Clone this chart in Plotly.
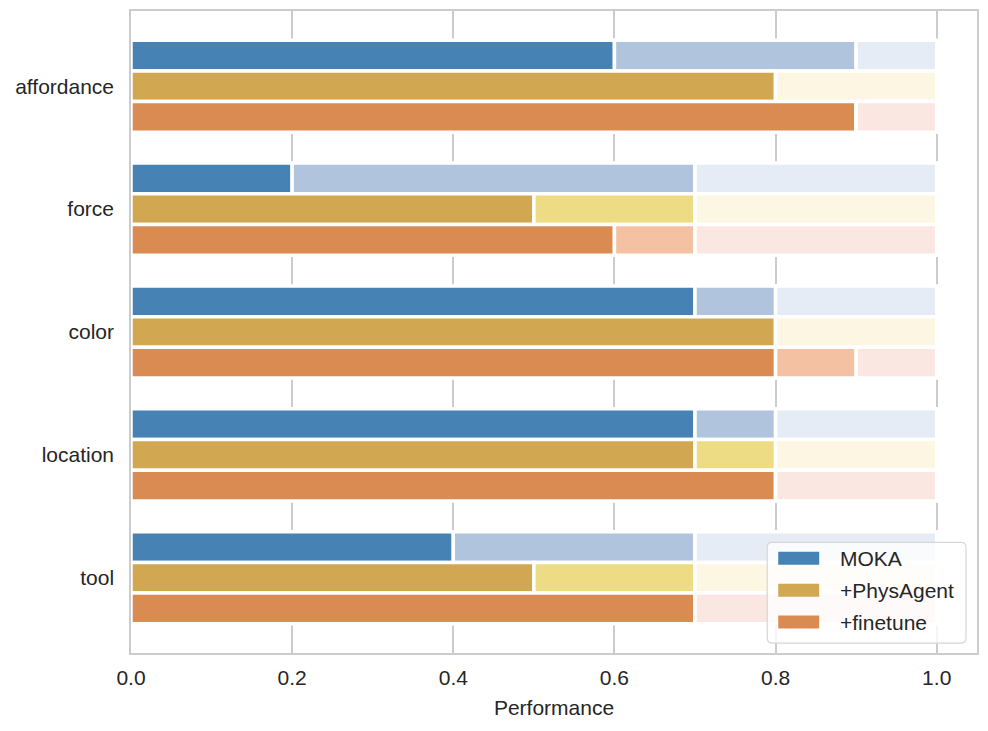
import plotly.graph_objects as go

# ---------------- data ----------------
categories = ["affordance", "force", "color", "location", "tool"]
series_names = ["MOKA", "+PhysAgent", "+finetune"]

moka_score = [0.6, 0.2, 0.7, 0.7, 0.4]
moka_upper = [0.9, 0.7, 0.8, 0.8, 0.7]
physagent_score = [0.8, 0.5, 0.8, 0.7, 0.5]
physagent_upper = [0.8, 0.7, 0.8, 0.8, 0.7]
finetune_score = [0.9, 0.6, 0.8, 0.8, 0.7]
finetune_upper = [0.9, 0.7, 0.9, 0.8, 0.7]
full_scale = [1.0, 1.0, 1.0, 1.0, 1.0]

x_ticks = [0.0, 0.2, 0.4, 0.6, 0.8, 1.0]
x_tick_labels = ["0.0", "0.2", "0.4", "0.6", "0.8", "1.0"]

# ---------------- styles ----------------
palette = {
    "MOKA": ("#4682B4", "#B0C4DE", "#E5ECF5"),
    "+PhysAgent": ("#D1A851", "#EDDC84", "#FCF6E3"),
    "+finetune": ("#D98B52", "#F4C2A3", "#FBE7E1"),
}
series_data = {
    "MOKA": (moka_score, moka_upper),
    "+PhysAgent": (physagent_score, physagent_upper),
    "+finetune": (finetune_score, finetune_upper),
}

FONT = "Liberation Sans, Arial, Helvetica, sans-serif"
FS = 21
TEXT = "#262626"
GRID = "#cccccc"
W, H = 988, 731
ML, MR, MT, MB = 131, 10, 9, 78

fig = go.Figure()

for name in series_names:
    score, upper = series_data[name]
    c_solid, c_light, c_rest = palette[name]
    seg_light = [u - s for s, u in zip(score, upper)]
    seg_rest = [t - u for u, t in zip(upper, full_scale)]
    for base, width, color in (
        ([0.0] * len(score), score, c_solid),
        (score, seg_light, c_light),
        (upper, seg_rest, c_rest),
    ):
        fig.add_trace(go.Bar(
            y=categories, x=width, base=base, orientation="h",
            offsetgroup=name, name=name, showlegend=False,
            marker=dict(color=color, line=dict(color="white", width=3.5)),
            hovertemplate=name + " %{y}: %{base:.1f}–%{x:.1f}<extra></extra>",
        ))

fig.update_layout(
    width=W, height=H,
    margin=dict(l=ML, r=MR, t=MT, b=MB, pad=0),
    paper_bgcolor="white", plot_bgcolor="white",
    barmode="group", bargap=0.25, bargroupgap=0,
    font=dict(family=FONT, size=FS, color=TEXT),
    showlegend=False,
)
fig.update_xaxes(
    range=[0, 1.05], tickvals=x_ticks, ticktext=x_tick_labels,
    showgrid=True, gridcolor=GRID, gridwidth=1.5, zeroline=False,
    showline=True, mirror=True, linecolor=GRID, linewidth=1.5,
    ticks="", ticklabelstandoff=5,
    tickfont=dict(family=FONT, size=FS, color=TEXT),
    title=dict(text="Performance", font=dict(family=FONT, size=FS, color=TEXT), standoff=12),
)
fig.update_yaxes(
    type="category", categoryorder="array", categoryarray=categories,
    range=[len(categories) - 1 + 0.6125, -0.6125],
    showgrid=False, zeroline=False,
    showline=True, mirror=True, linecolor=GRID, linewidth=1.5,
    ticks="", ticklabelstandoff=11,
    tickfont=dict(family=FONT, size=FS, color=TEXT),
)

# ---------------- manual legend (matplotlib-like) ----------------
pw, ph = W - ML - MR, H - MT - MB


def px_x(p):
    return (p - ML) / pw


def px_y(p):
    return (H - MB - p) / ph


bx0, bx1, by0, by1, r = 768, 967, 542, 643, 5
pts = [
    ("M", bx0 + r, by0), ("L", bx1 - r, by0), ("Q", bx1, by0, bx1, by0 + r),
    ("L", bx1, by1 - r), ("Q", bx1, by1, bx1 - r, by1), ("L", bx0 + r, by1),
    ("Q", bx0, by1, bx0, by1 - r), ("L", bx0, by0 + r), ("Q", bx0, by0, bx0 + r, by0),
]
path = ""
for p in pts:
    cmd = p[0]
    coords = p[1:]
    s = []
    for i in range(0, len(coords), 2):
        s.append(f"{px_x(coords[i]):.5f},{px_y(coords[i + 1]):.5f}")
    path += cmd + " ".join(s) + " "
path += "Z"
fig.add_shape(type="path", path=path, xref="paper", yref="paper",
              fillcolor="rgba(255,255,255,0.8)", line=dict(color="#d6d6d6", width=1.2),
              layer="above")

row_y = [558, 590, 622]
for name, yc in zip(series_names, row_y):
    fig.add_shape(type="rect", xref="paper", yref="paper",
                  x0=px_x(779), x1=px_x(820), y0=px_y(yc - 6.5), y1=px_y(yc + 6.5),
                  fillcolor=palette[name][0], line=dict(width=0), layer="above")
    fig.add_annotation(x=px_x(839), y=px_y(yc), xref="paper", yref="paper",
                       text=name, showarrow=False, xanchor="left", yanchor="middle",
                       font=dict(family=FONT, size=FS, color=TEXT))

fig.write_html("out.html")
